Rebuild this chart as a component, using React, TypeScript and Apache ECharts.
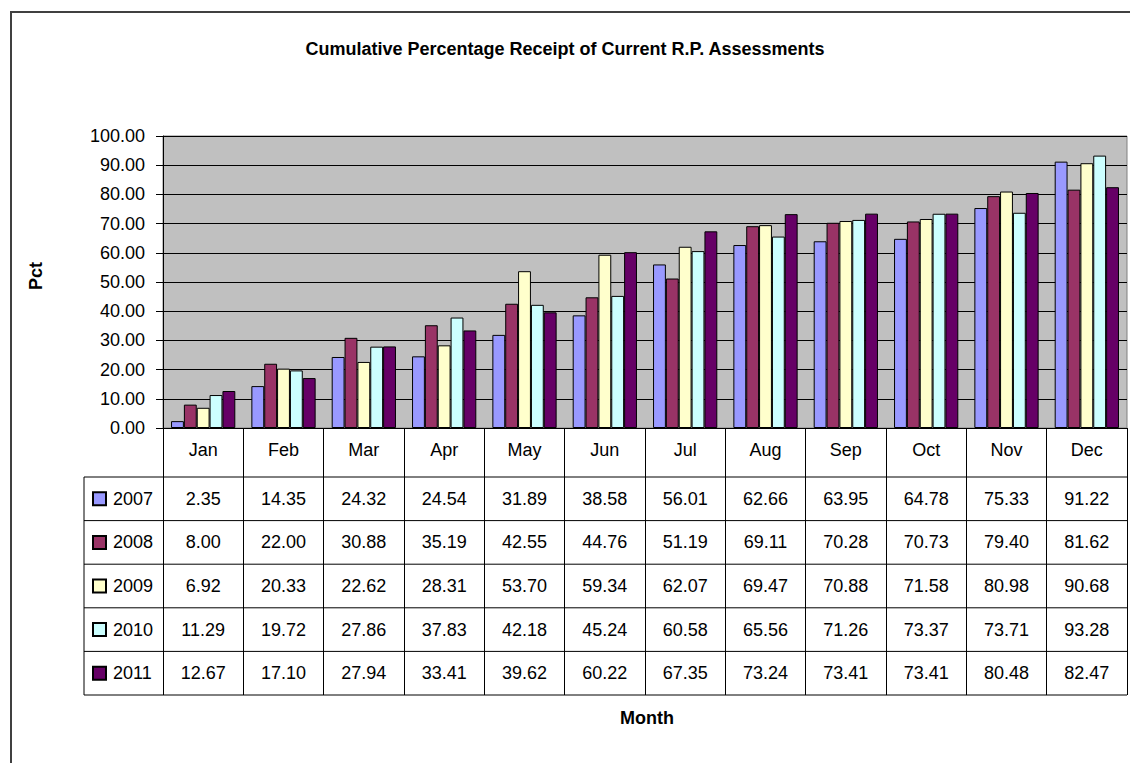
import React, { useEffect, useRef } from "react";
import * as echarts from "echarts";

const months = ["Jan", "Feb", "Mar", "Apr", "May", "Jun", "Jul", "Aug", "Sep", "Oct", "Nov", "Dec"];
const years = ["2007", "2008", "2009", "2010", "2011"];
const v2007 = [2.35, 14.35, 24.32, 24.54, 31.89, 38.58, 56.01, 62.66, 63.95, 64.78, 75.33, 91.22];
const v2008 = [8.0, 22.0, 30.88, 35.19, 42.55, 44.76, 51.19, 69.11, 70.28, 70.73, 79.4, 81.62];
const v2009 = [6.92, 20.33, 22.62, 28.31, 53.7, 59.34, 62.07, 69.47, 70.88, 71.58, 80.98, 90.68];
const v2010 = [11.29, 19.72, 27.86, 37.83, 42.18, 45.24, 60.58, 65.56, 71.26, 73.37, 73.71, 93.28];
const v2011 = [12.67, 17.1, 27.94, 33.41, 39.62, 60.22, 67.35, 73.24, 73.41, 73.41, 80.48, 82.47];
const seriesValues = [v2007, v2008, v2009, v2010, v2011];
const colors = ["#9999FF", "#993366", "#FFFFCC", "#CCFFFF", "#660066"];
const yMin = 0;
const yMax = 100;
const yStep = 10;

const FONT = "'Liberation Sans', Arial, sans-serif";
const W = 1130;
const H = 763;
const GL = 163;
const GR = 1127;
const GT = 136;
const GB = 428;
const HEADER_H = 49;
const ROW_H = 43.6;
const TABLE_LEFT = 84;

export default function App() {
  const ref = useRef<HTMLDivElement>(null);
  useEffect(() => {
    document.body.style.margin = "0";
    const chart = echarts.init(ref.current!, null, { renderer: "svg" });
    const rowTop = (i: number) => GB + HEADER_H + i * ROW_H;
    const tableBottom = rowTop(years.length);

    const extraXAxes = seriesValues.map((vals, i) => ({
      type: "category",
      gridIndex: 0,
      position: "bottom",
      offset: rowTop(i) + ROW_H / 2 - GB,
      data: vals.map((v) => v.toFixed(2)),
      boundaryGap: true,
      axisLine: { show: false },
      axisTick: { show: false },
      splitLine: { show: false },
      axisLabel: {
        margin: 0,
        verticalAlign: "middle",
        fontSize: 18,
        color: "#000",
        fontFamily: FONT,
        interval: 0,
      },
    }));

    const legends = years.map((y, i) => ({
      data: [y],
      orient: "vertical",
      left: 92,
      top: rowTop(i) + ROW_H / 2 - 9,
      padding: 0,
      itemWidth: 13,
      itemHeight: 13,
      icon: "rect",
      selectedMode: false,
      textStyle: { fontSize: 18, color: "#000", fontFamily: FONT, padding: [0, 0, 0, 2] },
    }));

    const graphics: any[] = [
      {
        type: "polyline",
        shape: { points: [[11, H + 5], [11, 12], [W + 5, 12]] },
        style: { fill: "none", stroke: "#404040", lineWidth: 2 },
        silent: true,
      },
      {
        type: "line",
        shape: { x1: TABLE_LEFT, y1: rowTop(0), x2: TABLE_LEFT, y2: tableBottom },
        style: { stroke: "#000", lineWidth: 1 },
      },
      {
        type: "text",
        x: 36,
        y: 276,
        rotation: Math.PI / 2,
        style: {
          text: "Pct",
          fontSize: 18,
          fontWeight: "bold",
          fontFamily: FONT,
          fill: "#000",
          align: "center",
          verticalAlign: "middle",
        },
      },
      {
        type: "text",
        x: (GL + GR) / 2 + 2,
        y: 718,
        style: {
          text: "Month",
          fontSize: 18,
          fontWeight: "bold",
          fontFamily: FONT,
          fill: "#000",
          align: "center",
          verticalAlign: "middle",
        },
      },
    ];
    for (let i = 0; i <= years.length; i++) {
      graphics.push({
        type: "line",
        shape: { x1: TABLE_LEFT, y1: rowTop(i), x2: GR, y2: rowTop(i) },
        style: { stroke: "#000", lineWidth: 1 },
      });
    }

    chart.setOption({
      animation: false,
      backgroundColor: "#fff",
      title: {
        text: "Cumulative Percentage Receipt of Current R.P. Assessments",
        left: "center",
        top: 40,
        padding: 0,
        textStyle: { fontSize: 18, fontWeight: "bold", color: "#000", fontFamily: FONT },
      },
      legend: legends,
      grid: {
        left: GL,
        right: W - GR,
        top: GT,
        bottom: H - GB,
        show: true,
        backgroundColor: "#C0C0C0",
        borderColor: "#808080",
        borderWidth: 1,
      },
      xAxis: [
        {
          type: "category",
          data: months,
          boundaryGap: true,
          axisLine: { show: true, lineStyle: { color: "#000", width: 1 } },
          axisTick: {
            show: true,
            inside: false,
            length: tableBottom - GB,
            lineStyle: { color: "#000", width: 1 },
          },
          axisLabel: {
            margin: 22,
            verticalAlign: "middle",
            fontSize: 18,
            color: "#000",
            fontFamily: FONT,
            interval: 0,
          },
        },
        ...extraXAxes,
      ],
      yAxis: {
        type: "value",
        min: yMin,
        max: yMax,
        interval: yStep,
        axisLine: { show: true, lineStyle: { color: "#000", width: 1 } },
        axisTick: { show: true, length: 7, lineStyle: { color: "#000" } },
        axisLabel: {
          margin: 18,
          fontSize: 18,
          color: "#000",
          fontFamily: FONT,
          formatter: (v: number) => v.toFixed(2),
        },
        splitLine: { show: true, lineStyle: { color: "#000", width: 1 } },
      },
      series: years.map((y, i) => ({
        name: y,
        type: "bar",
        xAxisIndex: 0,
        data: seriesValues[i],
        barGap: "0%",
        barCategoryGap: "20%",
        itemStyle: { color: colors[i], borderColor: "#000", borderWidth: 1 },
      })),
      graphic: graphics,
    });
    return () => chart.dispose();
  }, []);
  return <div ref={ref} style={{ width: W, height: H }} />;
}
